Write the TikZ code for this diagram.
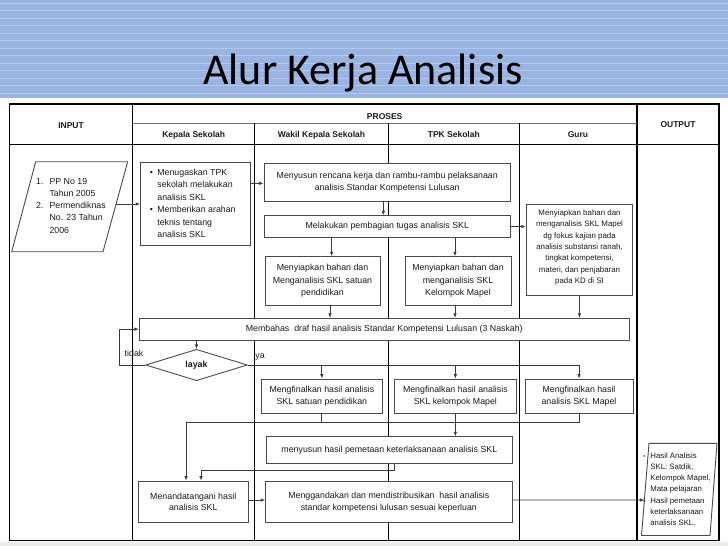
\documentclass[tikz,border=0pt]{standalone}
\usepackage{fontspec}
\setmainfont{Liberation Sans}
\newfontfamily\titlefont{Carlito}
\usetikzlibrary{arrows.meta,shapes.geometric,calc}
\definecolor{bandblue}{HTML}{9AB4E1}
\definecolor{bandstripe}{HTML}{B4C8EC}
\definecolor{boxc}{HTML}{4A4A4A}
\definecolor{linec}{HTML}{3A3A3A}
\definecolor{txt}{HTML}{1A1A1A}
\definecolor{footgray}{HTML}{ECECE8}
\begin{document}
\begin{tikzpicture}[x=1pt,y=-1pt,
  box/.style={draw=boxc, line width=0.9pt, fill=white, inner sep=0pt, align=center,
    font=\fontsize{8.8}{11.6}\selectfont, text=txt},
  small/.style={font=\fontsize{7.9}{11.3}\selectfont},
  conn/.style={draw=linec, line width=0.8pt},
  arr/.style={conn, -{Latex[length=4.5pt,width=3.6pt]}},
  frame/.style={draw=black, line width=1.3pt},
  thin/.style={draw=black, line width=0.8pt},
  thick/.style={draw=black, line width=1.8pt},
  head/.style={font=\bfseries\fontsize{8.5}{10}\selectfont, text=txt, anchor=base, inner sep=0pt},
  lbl/.style={font=\fontsize{8.8}{10}\selectfont, text=txt, inner sep=0pt}
]
\useasboundingbox (0,0) rectangle (728,546);
% background
\fill[white] (0,0) rectangle (728,546);
\fill[bandblue] (0,0) rectangle (728,98);
\foreach \k in {0,...,12} {
  \draw[bandstripe, line width=0.7pt] (0,3+7.5*\k) -- (728,3+7.5*\k);
}
\fill[footgray] (0,541.5) rectangle (728,546);
\node[font=\titlefont\fontsize{44}{44}\selectfont, text=black, anchor=base, inner sep=0pt] (title) at (363,84) {Alur Kerja Analisis};

% table
\draw[thin] (132.7,104) -- (132.7,540.5);
\draw[thick] (636.7,104) -- (636.7,540.5);
\draw[draw=black!55, line width=0.9pt] (132.7,123) -- (636.7,123);
\draw[thin] (254.7,123) -- (254.7,540.5);
\draw[draw=black, line width=1.4pt] (388.3,123) -- (388.3,540.5);
\draw[thin] (519.3,123) -- (519.3,540.5);
\draw[thick] (9.3,144.5) -- (719,144.5);
\draw[frame] (9.3,104) rectangle (719,540.5);

\node[head] (hin) at (71,128.5) {INPUT};
\node[head] (hpro) at (384.7,119) {PROSES};
\node[head] (hout) at (678,127.5) {OUTPUT};
\node[head] (hkep) at (193.7,137.5) {Kepala Sekolah};
\node[head] (hwak) at (321.5,137.5) {Wakil Kepala Sekolah};
\node[head] (htpk) at (453.8,137.5) {TPK Sekolah};
\node[head] (hguru) at (578,137.5) {Guru};

% input parallelogram
\coordinate (inTL) at (35.7,161.7);
\coordinate (inTR) at (127.7,161.7);
\coordinate (inBR) at (103,251.7);
\coordinate (inBL) at (11.7,251.7);
\coordinate (inR) at ($(inTR)!0.47!(inBR)$);
\draw[draw=boxc, line width=0.9pt, fill=white] (inTL) -- (inTR) -- (inBR) -- (inBL) -- cycle;
\node[lbl, font=\fontsize{8.8}{12.3}\selectfont, anchor=north west] (intext) at (36,175.2)
  {\begin{tabular}{@{}l@{\hspace{6pt}}l@{}}1. & PP No 19\\ & Tahun 2005\\ 2. & Permendiknas\\ & No. 23 Tahun\\ & 2006\end{tabular}};

% output parallelogram
\coordinate (outTL) at (649,443.3);
\coordinate (outTR) at (717,443.3);
\coordinate (outBR) at (710,535.5);
\coordinate (outBL) at (641.5,535.5);
\coordinate (outL) at ($(outTL)!0.615!(outBL)$);
\draw[draw=boxc, line width=0.9pt, fill=white] (outTL) -- (outTR) -- (outBR) -- (outBL) -- cycle;
\node[lbl, font=\fontsize{7.8}{11.1}\selectfont, anchor=north west] (outtext) at (643,450.7)
  {\begin{tabular}{@{}l@{\hspace{4.6pt}}l@{}}\textbf{-} & Hasil Analisis\\ & SKL: Satdik,\\ & Kelompok Mapel,\\ & Mata pelajaran\\ \textbf{-} & Hasil pemetaan\\ & keterlaksanaan\\ & analisis SKL.\end{tabular}};

% process boxes
\node[box, minimum width=110pt, minimum height=83.4pt, font=\fontsize{8.8}{12.46}\selectfont] (kep1) at (195.7,204)
  {\begin{tabular}{@{}l@{\hspace{4.5pt}}l@{}}\textbullet & Menugaskan TPK\\ & sekolah melakukan\\ & analisis SKL\\ \textbullet & Memberikan arahan\\ & teknis tentang\\ & analisis SKL\end{tabular}\rule{6pt}{0pt}};
\node[box, minimum width=246.5pt, minimum height=38.7pt] (meny) at (387.25,182.35)
  {Menyusun rencana kerja dan rambu-rambu pelaksanaan\\ analisis Standar Kompetensi Lulusan};
\node[box, minimum width=246.5pt, minimum height=21.6pt] (mel) at (387.25,226.5)
  {Melakukan pembagian tugas analisis SKL};
\node[box, small, minimum width=106.6pt, minimum height=91.7pt] (guru1) at (579.5,249.85)
  {Menyiapkan bahan dan\\ menganalisis SKL Mapel\\ dg fokus kajian pada\\ analisis substansi ranah,\\ tingkat kompetensi,\\ materi, dan penjabaran\\ pada KD di SI\\[-5pt]\mbox{}};
\node[box, font=\fontsize{8.8}{12.2}\selectfont, minimum width=115pt, minimum height=48.3pt] (wak2) at (322.5,280.85)
  {Menyiapkan bahan dan\\ Menganalisis SKL satuan\\ pendidikan};
\node[box, font=\fontsize{8.8}{12.2}\selectfont, minimum width=106pt, minimum height=48.3pt] (tpk2) at (458,280.85)
  {Menyiapkan bahan dan\\ menganalisis SKL\\ Kelompok Mapel};
\node[box, minimum width=490pt, minimum height=21.7pt] (memb) at (384.3,329.15)
  {Membahas\ \ draf hasil analisis Standar Kompetensi Lulusan (3 Naskah)};
\node[diamond, draw=boxc, line width=0.9pt, fill=white, inner sep=0pt, aspect=3.2,
  minimum width=101.7pt, minimum height=31.4pt, font=\bfseries\fontsize{8.8}{10}\selectfont, text=txt] (lay) at (196.5,365) {layak};
\node[box, minimum width=121.7pt, minimum height=34.3pt] (wakF) at (321.85,396.15)
  {Mengfinalkan hasil analisis\\ SKL satuan pendidikan};
\node[box, minimum width=122.7pt, minimum height=34.3pt] (tpkF) at (455.35,396.15)
  {Mengfinalkan hasil analisis\\ SKL kelompok Mapel};
\node[box, minimum width=108pt, minimum height=34.3pt] (guruF) at (579,396.15)
  {Mengfinalkan hasil\\ analisis SKL Mapel};
\node[box, minimum width=245.3pt, minimum height=26.6pt] (hasil) at (389.35,450)
  {menyusun hasil pemetaan keterlaksanaan analisis SKL};
\node[box, minimum width=110pt, minimum height=41.3pt] (tanda) at (193.3,501.65)
  {Menandatangani hasil\\ analisis SKL};
\node[box, minimum width=246.3pt, minimum height=40.6pt] (ganda) at (388.85,502)
  {Menggandakan dan mendistribusikan\ \ hasil analisis\\ standar kompetensi lulusan sesuai keperluan};

\node[lbl] (tidak) at (134,353.3) {tidak};
\node[lbl] (ya) at (260,357.3) {ya};

% connectors
\draw[arr] (inR) -- (inR -| kep1.west);
\draw[arr] (kep1.east |- 0,183.3) -- (meny.west |- 0,183.3);
\draw[arr] (meny.south -| 383.3,0) -- (mel.north -| 383.3,0);
\draw[arr] (mel.east) -- (guru1.west |- mel.east);
\draw[arr] (mel.south -| 331.7,0) -- (wak2.north -| 331.7,0);
\draw[arr] (mel.south -| 455,0) -- (tpk2.north -| 455,0);
\draw[arr] (wak2.south -| 330,0) -- (memb.north -| 330,0);
\draw[arr] (tpk2.south -| 455,0) -- (memb.north -| 455,0);
\draw[arr] (guru1.south) -- (memb.north -| guru1.south);
\draw[arr] (memb.south -| lay.north) -- (lay.north);
\draw[arr] (lay.west) -- (119.3,365) |- (memb.west);
\draw[arr] (lay.east) -| (guruF.north);
\draw[arr] (wakF.north |- lay.east) -- (wakF.north);
\draw[arr] (tpkF.north |- lay.east) -- (tpkF.north);
\draw[conn] (wakF.south) -- (wakF.south |- 0,422);
\draw[arr] (tpkF.south) -- (hasil.north -| tpkF.south);
\draw[arr] (guruF.south) |- (186,422) -- (tanda.north -| 186,0);
\draw[arr] (hasil.south -| 394,0) -- (394,470) -| (tanda.north -| 201,0);
\draw[arr] (tanda.east |- 0,500) -- (ganda.west |- 0,500);
\draw[arr] (ganda.east |- 0,500) -- (outL);
\end{tikzpicture}
\end{document}
